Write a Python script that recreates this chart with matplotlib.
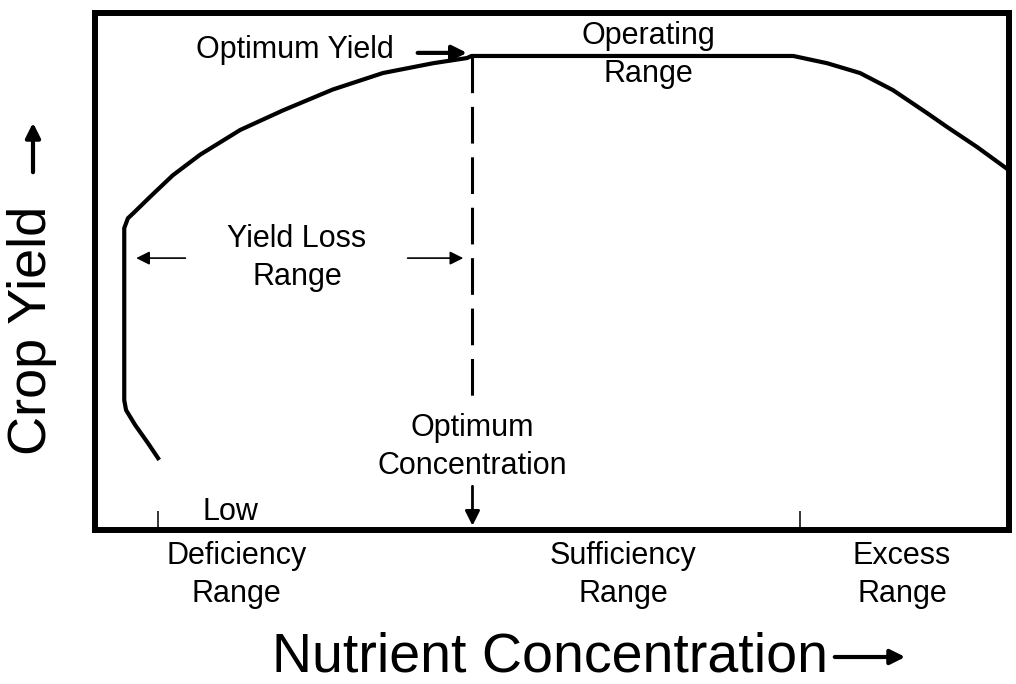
import matplotlib
matplotlib.use("Agg")
import matplotlib.pyplot as plt

plt.rcParams["font.family"] = ["Liberation Sans", "DejaVu Sans"]

# yield response curve (relative units: concentration 0-100, yield 0-100)
conc = [6.9, 5.8, 4.4, 3.4, 3.2, 3.2, 3.6, 4.2, 6.0, 8.5, 11.5, 15.9, 20.6,
        26.0, 31.5, 37.0, 40.7, 41.2, 76.4, 80.1, 83.7, 87.3, 91.0, 93.2,
        96.5, 100.0]
yield_ = [13.9, 16.8, 20.3, 23.2, 25.1, 58.4, 60.3, 61.3, 64.4, 68.6, 72.6,
          77.4, 81.2, 85.2, 88.4, 90.3, 91.3, 91.7, 91.7, 90.3, 88.4, 85.1,
          80.7, 78.0, 74.1, 69.6]

opt_conc = 41.3
opt_yield = 91.7
dash_bottom = 24.6

boundary_ticks = [6.9, 77.1]
range_pos = [15.5, 57.8, 88.3]
range_labels = ["Deficiency\nRange", "Sufficiency\nRange", "Excess\nRange"]

fig = plt.figure(figsize=(10.16, 6.84), dpi=100)
ax = fig.add_axes([0.0935, 0.2251, 0.8996, 0.7558])
ax.set_xlim(0, 100)
ax.set_ylim(0, 100)

for s in ax.spines.values():
    s.set_linewidth(4.3)
    s.set_color("black")

ax.plot(conc, yield_, color="black", lw=3.0, solid_joinstyle="round", zorder=3)
ax.plot([opt_conc, opt_conc], [opt_yield, dash_bottom], color="black", lw=2.2,
        dashes=(12, 4.5))

# ticks: small inward marks at range boundaries, labels for the ranges
ax.set_xticks(boundary_ticks)
ax.set_xticklabels([])
ax.tick_params(axis="x", which="major", direction="in", length=14, width=1.1)
ax.set_xticks(range_pos, minor=True)
ax.set_xticklabels(range_labels, minor=True, fontsize=22, linespacing=1.35)
ax.tick_params(axis="x", which="minor", length=0, pad=8)
ax.set_yticks([])

txt = dict(fontsize=22, ha="center", va="center", linespacing=1.33)
ax.text(21.9, 92.8, "Optimum Yield", **txt)
ax.text(60.5, 91.9, "Operating\nRange", **txt)
ax.text(22.1, 52.6, "Yield Loss\nRange", **txt)
ax.text(opt_conc, 16.1, "Optimum\nConcentration", **txt)
ax.text(14.8, 3.5, "Low", **txt)

ax.annotate("", xy=(41.0, 92.3), xytext=(35.0, 92.3),
            arrowprops=dict(arrowstyle="-|>", lw=3.0, color="black", mutation_scale=22))
ax.annotate("", xy=(4.2, 52.6), xytext=(10.2, 52.6),
            arrowprops=dict(arrowstyle="-|>", lw=1.2, color="black", mutation_scale=20))
ax.annotate("", xy=(40.6, 52.6), xytext=(33.9, 52.6),
            arrowprops=dict(arrowstyle="-|>", lw=1.2, color="black", mutation_scale=20))
ax.annotate("", xy=(opt_conc, 0.3), xytext=(opt_conc, 9.0),
            arrowprops=dict(arrowstyle="-|>", lw=2.0, color="black", mutation_scale=22))

# axis titles with arrows
fig.text(550 / 1016, 1 - 671 / 684, "Nutrient Concentration", fontsize=40,
         ha="center", va="baseline")
fig.text(32 / 1016, 1 - 330 / 684, "Crop Yield", fontsize=39, rotation=90,
         ha="center", va="center")
ax.annotate("", xy=(908 / 1016, 1 - 657 / 684), xytext=(832 / 1016, 1 - 657 / 684),
            xycoords="figure fraction", textcoords="figure fraction",
            arrowprops=dict(arrowstyle="-|>", lw=3.0, color="black", mutation_scale=22))
ax.annotate("", xy=(33 / 1016, 1 - 120 / 684), xytext=(33 / 1016, 1 - 175 / 684),
            xycoords="figure fraction", textcoords="figure fraction",
            arrowprops=dict(arrowstyle="-|>", lw=3.0, color="black", mutation_scale=22))

fig.savefig("out.png", dpi=100)
